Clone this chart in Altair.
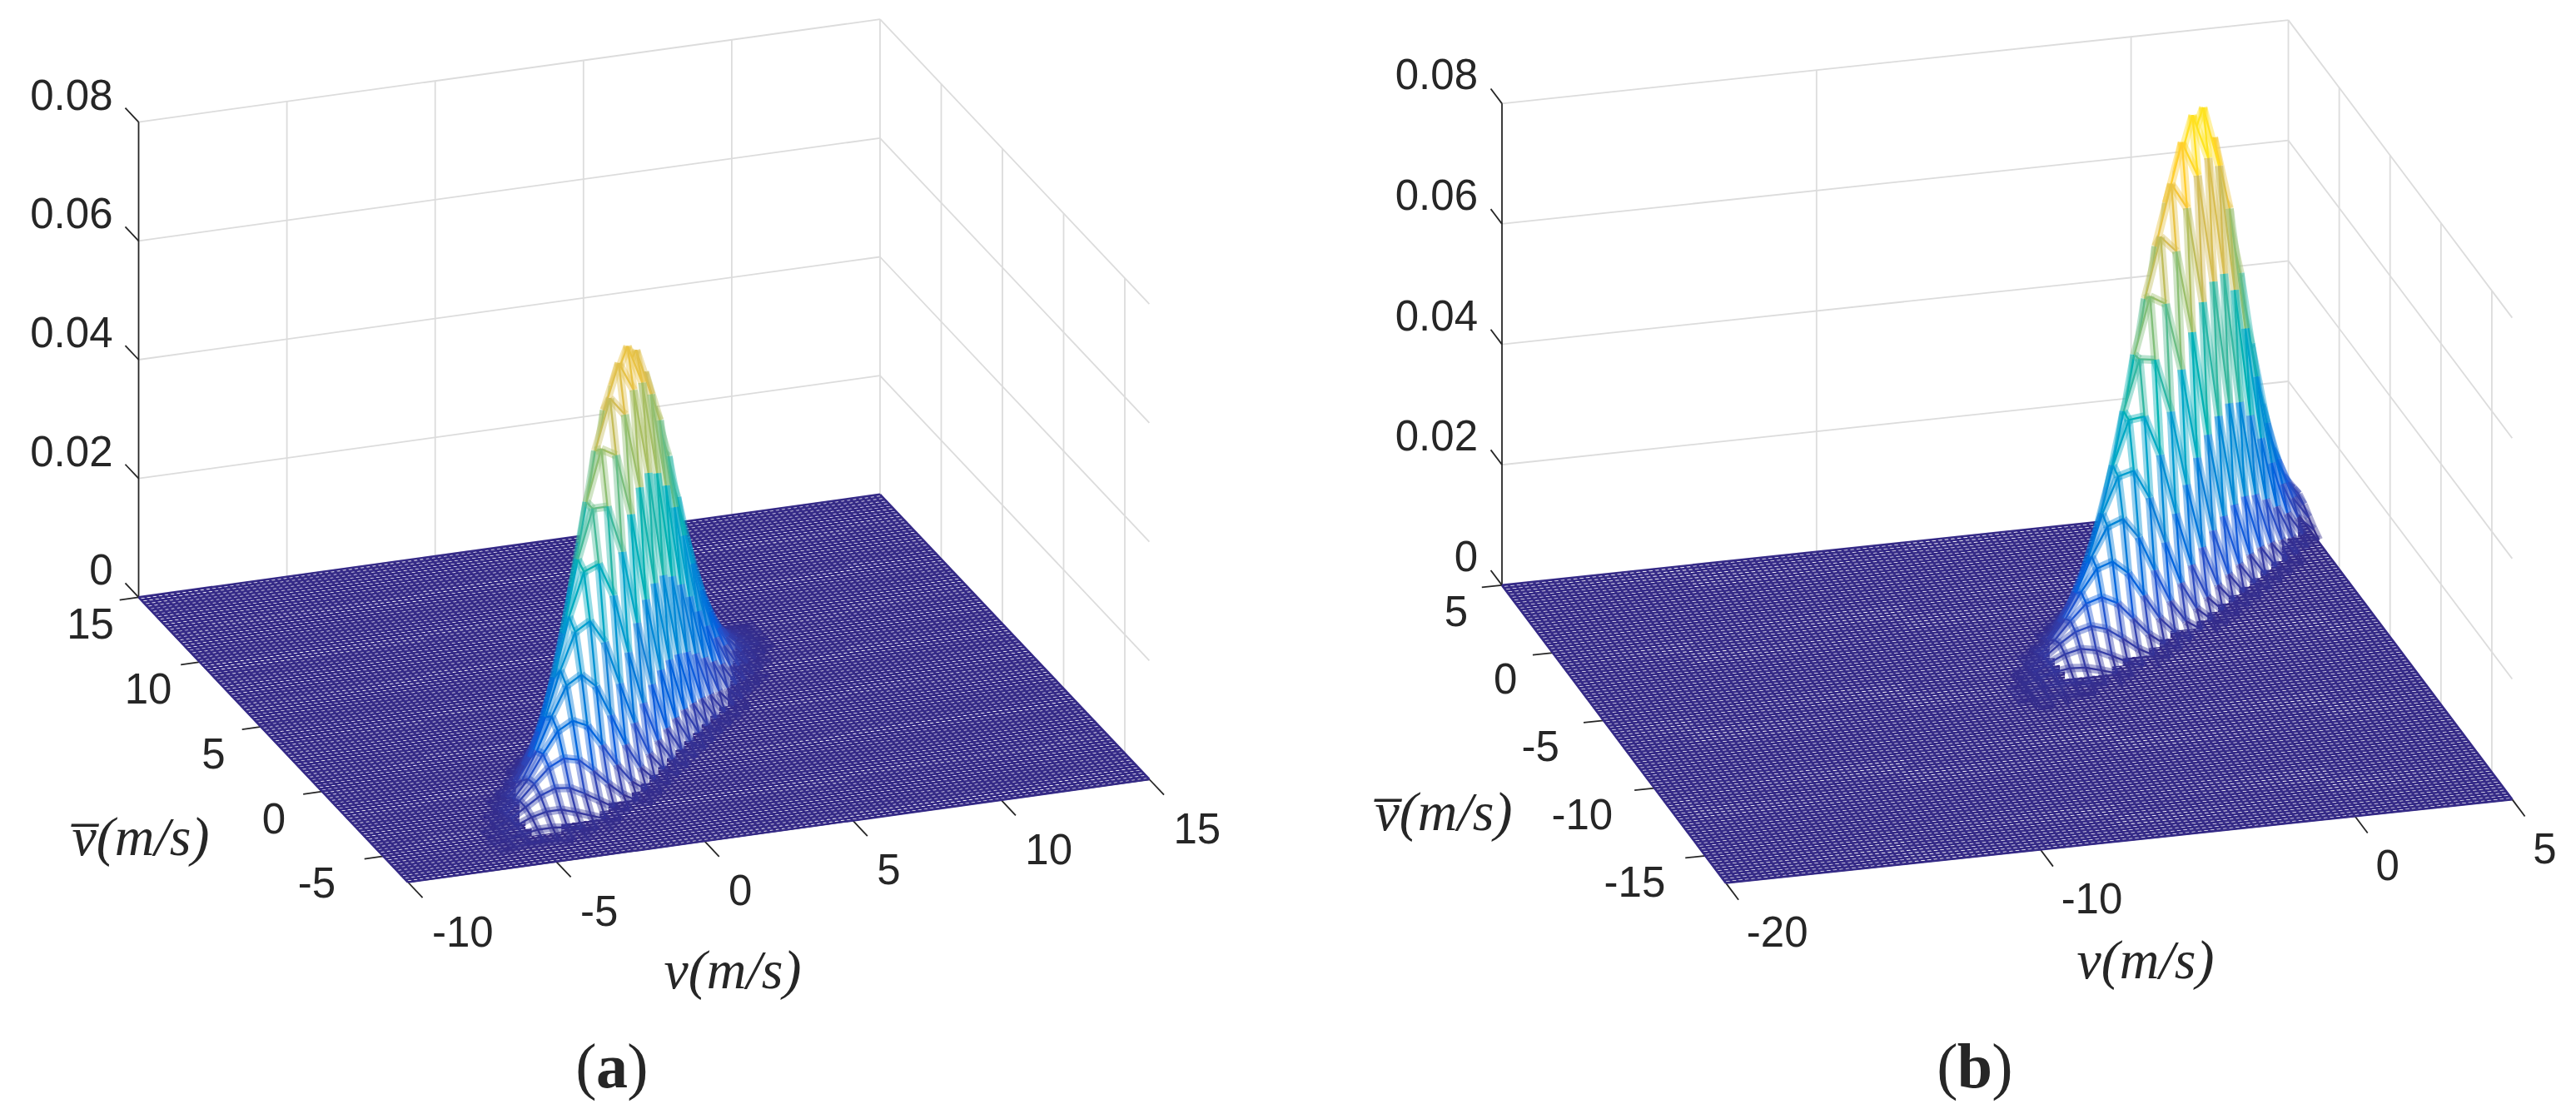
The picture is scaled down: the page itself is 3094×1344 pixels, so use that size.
import altair as alt
import numpy as np
import pandas as pd

alt.data_transformers.disable_max_rows()

# ---- values ----------------------------------------------------------------
Z_TICKS = [0, 0.02, 0.04, 0.06, 0.08]
Z_LABELS = ["0", "0.02", "0.04", "0.06", "0.08"]
V_TICKS_A = [-10, -5, 0, 5, 10, 15]
VB_TICKS_A = [15, 10, 5, 0, -5]
V_TICKS_B = [-20, -10, 0, 5]
VB_TICKS_B = [5, 0, -5, -10, -15]
PARULA = ["#352a87", "#0f5cdd", "#1481d6", "#06a4ca", "#2eb7a4",
          "#87bf77", "#d1bb59", "#fec832", "#f9fb0e"]

# Surface heights (unit 1e-4) estimated by eye from the silhouettes and the
# footprint of each bump, on a 0.5 m/s grid (coarser than the original mesh).
# Row = vbar (back to front); column = v - vbar, from -3.5 to 3.5.
ROWS_A_START = 7.0
ROWS_A = [
 [1,2,4,6,9,10,10,8,5,3,1,0,0,0,0],
 [1,3,6,11,16,19,19,15,10,6,3,1,0,0,0],
 [2,4,10,18,27,33,34,28,19,10,5,2,1,0,0],
 [2,6,15,28,43,54,56,48,34,19,9,3,1,0,0],
 [3,9,22,42,65,84,90,78,56,33,16,6,2,1,0],
 [4,12,30,59,93,125,137,122,90,54,27,11,4,1,0],
 [5,15,39,78,127,176,197,181,137,84,43,18,6,2,0],
 [6,18,48,99,166,235,269,255,197,125,65,28,10,3,1],
 [6,21,56,120,205,297,351,340,269,176,93,42,15,4,1],
 [7,23,62,137,240,359,434,431,351,235,127,59,22,6,2],
 [7,23,66,148,268,410,509,520,434,297,166,78,30,9,2],
 [6,23,66,153,284,445,567,594,509,359,205,99,39,12,3],
 [6,21,63,150,285,460,601,645,567,410,240,120,48,15,4],
 [5,19,57,140,272,450,603,666,601,445,268,137,56,18,5],
 [4,16,49,123,247,419,576,652,603,460,284,148,62,21,6],
 [3,13,40,104,212,370,522,607,576,450,285,153,66,23,6],
 [2,9,31,82,174,311,450,536,522,419,272,150,66,23,7],
 [2,7,23,62,135,247,368,450,450,370,247,140,63,23,7],
 [1,5,16,45,99,187,286,358,368,311,212,123,57,21,6],
 [1,3,11,31,70,135,210,271,286,247,174,104,49,19,6],
 [0,2,7,20,46,92,147,195,210,187,135,82,40,16,5],
 [0,1,4,12,29,59,98,133,147,135,99,62,31,13,4],
 [0,1,2,7,18,37,62,86,98,92,70,45,23,9,3],
 [0,0,1,4,10,21,37,53,62,59,46,31,16,7,2],
 [0,0,1,2,6,12,21,31,37,37,29,20,11,5,2],
 [0,0,0,1,3,6,12,17,21,21,18,12,7,3,1],
 [0,0,0,0,1,3,5,9,12,12,10,7,4,2,1],
]
ROWS_B_START = 5.0
ROWS_B = [
 [1,4,10,19,29,35,33,25,14,7,2,1,0,0,0],
 [2,6,16,33,54,68,68,53,33,16,6,2,0,0,0],
 [3,9,25,54,91,121,127,105,68,35,14,5,1,0,0],
 [3,12,35,79,140,195,215,186,127,68,29,10,3,1,0],
 [4,15,44,105,195,286,330,300,215,121,54,19,5,1,0],
 [4,16,51,127,247,380,461,440,330,195,91,33,10,2,0],
 [4,16,53,138,283,458,582,584,461,286,140,54,16,4,1],
 [4,15,51,138,295,499,667,703,582,380,195,79,25,6,1],
 [3,14,48,133,288,500,694,767,667,458,247,105,35,9,2],
 [3,13,44,123,271,480,679,768,694,499,283,127,44,12,3],
 [2,11,38,109,247,444,639,737,679,500,295,138,51,15,3],
 [2,9,33,94,216,396,581,682,639,480,288,138,53,16,4],
 [2,7,26,78,182,340,508,608,581,444,271,133,51,16,4],
 [1,6,21,62,148,282,429,523,508,396,247,123,48,15,4],
 [1,4,16,48,116,225,349,433,429,340,216,109,44,14,4],
 [1,3,11,35,88,173,273,346,349,282,182,94,38,13,3],
 [0,2,8,25,64,128,207,266,273,225,148,78,33,11,3],
 [0,1,5,17,45,92,150,197,207,173,116,62,26,9,2],
 [0,1,4,12,30,63,105,141,150,128,88,48,21,7,2],
 [0,1,2,7,20,42,71,97,105,92,64,35,16,6,2],
 [0,0,1,5,12,27,47,64,71,63,45,25,11,4,1],
 [0,0,1,3,8,16,29,41,47,42,30,17,8,3,1],
 [0,0,0,2,4,10,18,25,29,27,20,12,5,2,1],
 [0,0,0,1,2,6,10,15,18,16,12,7,4,1,0],
 [0,0,0,0,1,3,5,9,10,10,8,5,2,1,0],
 [0,0,0,0,1,2,3,5,6,6,5,3,1,0,0],
 [0,0,0,0,0,1,2,3,4,4,3,2,1,0,0],
]

PANEL_A = dict(name="a", xdom=[8, 1547], org=(166.5, 717.4), ex=(35.62, -4.94), ey=(14.7, 15.55),
               kz=7135, v0=-10, v1=15, bmax=15, bmin=-7, zmax=666, vt=V_TICKS_A, bt=VB_TICKS_A,
               rows=ROWS_A, start=ROWS_A_START, zr=-31, zy=-30, vx=29, vy=62, vtick=-1.2,
               bx=[-58, -62, -57, -58, -80], by=35, ztick=1.09,
               vtitle=(880, 1167), btitle=(169, 1007), cap=(735, 1283), capdx=31)
PANEL_B = dict(name="b", xdom=[1547, 3086], org=(1804, 702.9), ex=(37.78, -4.01), ey=(12.22, 16.25),
               kz=7232, v0=-20, v1=5, bmax=5, bmin=-17, zmax=773, vt=V_TICKS_B, bt=VB_TICKS_B,
               rows=ROWS_B, start=ROWS_B_START, zr=-29, zy=-32, vx=25, vy=62, vtick=-1.25,
               bx=[-55, -57, -76, -87, -85], by=34, ztick=1.1,
               vtitle=(2577, 1155), btitle=(1734, 977), cap=(2372, 1283), capdx=33)

WALL = "#dcdcdc"
INK = "#262626"
FLOOR = "#352a87"
NUM_FONT = "Liberation Sans"
MATH_FONT = "Liberation Serif"
CAP_FONT = "Liberation Serif"
LINE_W = 2.3
TINT_W = 10
TINT_O = 0.42
MIN_EDGE_Z = 0.0006     # flatter edges are left to the floor mesh
MIN_CURTAIN_Z = 0.0030  # lower parts do not hide the floor mesh


def build(p):
    def proj(v, b, z=0.0):
        a, c = v - p["v0"], p["bmax"] - b
        return (p["org"][0] + a * p["ex"][0] + c * p["ey"][0],
                p["org"][1] + a * p["ex"][1] + c * p["ey"][1] - p["kz"] * z)

    X = alt.X("x:Q", scale=alt.Scale(domain=p["xdom"], nice=False, zero=False), axis=None)
    Y = alt.Y("y:Q", scale=alt.Scale(domain=[1328, 8], nice=False, zero=False), axis=None)
    stops = [p["zmax"] * 1e-4 * i / 8 for i in range(9)]
    COL = alt.Color("z:Q", scale=alt.Scale(domain=stops, range=PARULA), legend=None)

    def seg(a, b, **kw):
        (x, y), (x2, y2) = a, b
        return dict(x=x, y=y, x2=x2, y2=y2, **kw)

    def rules(items, color, width):
        return alt.Chart(pd.DataFrame(items)).mark_rule(color=color, strokeWidth=width).encode(
            x=X, y=Y, x2="x2:Q", y2="y2:Q")

    layers = []
    zmax = Z_TICKS[-1]
    # walls
    wall = []
    for z in Z_TICKS[1:]:
        wall.append(seg(proj(p["v0"], p["bmax"], z), proj(p["v1"], p["bmax"], z)))
        wall.append(seg(proj(p["v1"], p["bmax"], z), proj(p["v1"], p["bmin"], z)))
    for v in p["vt"][1:]:
        wall.append(seg(proj(v, p["bmax"]), proj(v, p["bmax"], zmax)))
    for b in p["bt"][1:]:
        wall.append(seg(proj(p["v1"], b), proj(p["v1"], b, zmax)))
    layers.append(rules(wall, WALL, 1.8))

    # axes and ticks
    ax = [seg(proj(p["v0"], p["bmax"]), proj(p["v0"], p["bmax"], zmax)),
          seg(proj(p["v0"], p["bmin"]), proj(p["v1"], p["bmin"])),
          seg(proj(p["v0"], p["bmax"]), proj(p["v0"], p["bmin"]))]
    for z in Z_TICKS:
        ax.append(seg(proj(p["v0"], p["bmax"], z), proj(p["v0"], p["bmax"] + p["ztick"], z)))
    for v in p["vt"]:
        ax.append(seg(proj(v, p["bmin"]), proj(v, p["bmin"] + p["vtick"])))
    for b in p["bt"]:
        ax.append(seg(proj(p["v0"], b), proj(p["v0"] - 0.64, b)))
    layers.append(rules(ax, INK, 1.8))

    # flat part of the mesh
    floor = []
    for v in np.arange(p["v0"], p["v1"] + 0.01, 0.2):
        floor.append(seg(proj(v, p["bmax"]), proj(v, p["bmin"])))
    for b in np.arange(p["bmin"], p["bmax"] + 0.01, 0.2):
        floor.append(seg(proj(p["v0"], b), proj(p["v1"], b)))
    layers.append(rules(floor, FLOOR, 2.7))

    # bump: painter's order, back row first
    grid = {}
    parsed = []
    for i, row in enumerate(p["rows"]):
        b = p["start"] - 0.5 * i
        pts = []
        for j, val in enumerate(row):
            v = b - 3.5 + 0.5 * j
            if v > p["v1"] + 1e-9 or v < p["v0"] - 1e-9:
                continue
            grid[(round(v * 2), round(b * 2))] = val * 1e-4
            pts.append((v, val * 1e-4))
        parsed.append((b, pts))

    def edge_color(items):
        items = [s for s in items if s["z"] >= MIN_EDGE_Z]
        if not items:
            return None
        both = [dict(s, w=TINT_W, o=TINT_O) for s in items] + [dict(s, w=LINE_W, o=1.0) for s in items]
        return alt.Chart(pd.DataFrame(both)).mark_rule().encode(
            x=X, y=Y, x2="x2:Q", y2="y2:Q", color=COL,
            strokeWidth=alt.StrokeWidth("w:Q", scale=None, legend=None),
            opacity=alt.Opacity("o:Q", scale=None, legend=None))

    for b, pts in parsed:
        back = []
        for v, z in pts:
            zb = grid.get((round(v * 2), round((b + 0.5) * 2)))
            if zb is None:
                zb = 0.0
            back.append(seg(proj(v, b + 0.5, zb), proj(v, b, z), z=(z + zb) / 2))
        if b < p["start"]:
            e = edge_color(back)
            if e is not None:
                layers.append(e)
        high = [(v, z) for v, z in pts if z >= MIN_CURTAIN_Z]
        if len(high) > 1:
            cur = pd.DataFrame([dict(x=proj(v, b, z)[0], y=proj(v, b, z)[1], f=proj(v, b)[1]) for v, z in high])
            layers.append(alt.Chart(cur).mark_area(color="white", opacity=1, strokeWidth=0).encode(x=X, y=Y, y2="f:Q"))
        along = [seg(proj(pts[k][0], b, pts[k][1]), proj(pts[k + 1][0], b, pts[k + 1][1]),
                     z=(pts[k][1] + pts[k + 1][1]) / 2) for k in range(len(pts) - 1)]
        e = edge_color(along)
        if e is not None:
            layers.append(e)

    # text
    def text(rows, size, align, font=NUM_FONT, **kw):
        return alt.Chart(pd.DataFrame(rows)).mark_text(
            fontSize=size, font=font, align=align, baseline="middle", color=INK, **kw
        ).encode(x=X, y=Y, text="t:N")

    zl = []
    for z, t in zip(Z_TICKS, Z_LABELS):
        x, y = proj(p["v0"], p["bmax"], z)
        zl.append(dict(x=x + p["zr"], y=y + p["zy"], t=t))
    layers.append(text(zl, 51, "right"))
    vl = []
    for v in p["vt"]:
        x, y = proj(v, p["bmin"])
        vl.append(dict(x=x + p["vx"], y=y + p["vy"], t=str(v)))
    layers.append(text(vl, 51, "left"))
    bl = []
    for b, dx in zip(p["bt"], p["bx"]):
        x, y = proj(p["v0"], b)
        bl.append(dict(x=x + dx, y=y + p["by"], t=str(b)))
    layers.append(text(bl, 51, "center"))
    layers.append(text([dict(x=p["vtitle"][0], y=p["vtitle"][1], t="v(m/s)")], 66, "center",
                       font=MATH_FONT, fontStyle="italic"))
    layers.append(text([dict(x=p["btitle"][0], y=p["btitle"][1], t="v\u0305(m/s)")], 66, "center",
                       font=MATH_FONT, fontStyle="italic"))
    cx, cy = p["cap"]
    layers.append(text([dict(x=cx - p["capdx"], y=cy, t="("), dict(x=cx + p["capdx"], y=cy, t=")")],
                       76, "center", font=CAP_FONT))
    layers.append(text([dict(x=cx, y=cy, t=p["name"])], 76, "center", font=CAP_FONT, fontWeight="bold"))

    return alt.layer(*layers).properties(width=1539, height=1320)


chart = alt.hconcat(build(PANEL_A), build(PANEL_B), spacing=0).properties(
    padding=0
).configure_view(stroke=None)

chart.save("out.html", embed_options={"renderer": "svg", "actions": False})
